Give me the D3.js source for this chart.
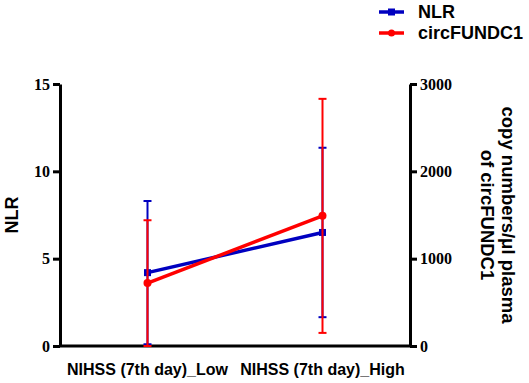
<!DOCTYPE html>
<html>
<head>
<meta charset="utf-8">
<script src="https://cdn.jsdelivr.net/npm/d3@7"></script>
<style>
  body { margin: 0; background: #fff; }
</style>
</head>
<body>
<div id="chart"></div>
<script>
const categories = ["NIHSS (7th day)_Low", "NIHSS (7th day)_High"];
const nlrMean = [4.2, 6.5];
const nlrSD = [4.1, 4.85];
const circMean = [720, 1490];
const circSD = [720, 1340];
const leftTicks = [0, 5, 10, 15];
const rightTicks = [0, 1000, 2000, 3000];

let width = 529,
  height = 383,
  margin = ({ top: 84, right: 119, bottom: 37, left: 60 });

const svg = d3.select("#chart")
  .append("svg")
  .attr("width", width)
  .attr("height", height);

let x = d3.scalePoint()
  .domain(categories)
  .range([margin.left, width - margin.right])
  .padding(0.5);

let yL = d3.scaleLinear()
  .domain([0, 15])
  .range([height - margin.bottom, margin.top]);

let yR = d3.scaleLinear()
  .domain([0, 3000])
  .range([height - margin.bottom, margin.top]);

const tickFont = "'Liberation Serif', 'Times New Roman', serif";
const labelFont = "'Liberation Sans', Arial, sans-serif";

// axes
const gL = svg.append("g")
  .attr("transform", `translate(${margin.left},0)`)
  .call(d3.axisLeft(yL).tickValues(leftTicks).tickSize(7).tickSizeOuter(0).tickFormat(d3.format("d")));

const gR = svg.append("g")
  .attr("transform", `translate(${width - margin.right},0)`)
  .call(d3.axisRight(yR).tickValues(rightTicks).tickSize(7).tickSizeOuter(0).tickFormat(d3.format("d")));

for (let g of [gL, gR]) {
  g.select(".domain").attr("stroke", "#000").attr("stroke-width", 3);
  g.selectAll(".tick line").attr("stroke", "#000").attr("stroke-width", 3);
  g.selectAll(".tick text")
    .attr("font-family", tickFont)
    .attr("font-weight", "bold")
    .attr("font-size", 16)
    .attr("fill", "#000");
}

svg.append("line")
  .attr("x1", margin.left).attr("x2", width - margin.right)
  .attr("y1", yL(0)).attr("y2", yL(0))
  .attr("stroke", "#000").attr("stroke-width", 3);

// category labels
svg.selectAll(".cat")
  .data(categories)
  .join("text")
  .attr("x", d => x(d))
  .attr("y", height - 8)
  .attr("text-anchor", "middle")
  .attr("font-family", labelFont)
  .attr("font-weight", "bold")
  .attr("font-size", 16)
  .text(d => d);

// axis titles
svg.append("text")
  .attr("transform", `translate(18,${(yL(0) + yL(15)) / 2}) rotate(-90)`)
  .attr("text-anchor", "middle")
  .attr("font-family", labelFont)
  .attr("font-weight", "bold")
  .attr("font-size", 18)
  .text("NLR");

const rt = svg.append("text")
  .attr("transform", `translate(502,${(yR(0) + yR(3000)) / 2}) rotate(90)`)
  .attr("text-anchor", "middle")
  .attr("font-family", labelFont)
  .attr("font-weight", "bold")
  .attr("font-size", 18.5);
rt.append("tspan").attr("x", 0).attr("y", 0).text("copy numbers/μl plasma");
rt.append("tspan").attr("x", 0).attr("y", 21).text("of circFUNDC1");

// series
const blue = "#0000c0", red = "#ff0000";

function drawSeries(means, sds, y, color, marker) {
  const g = svg.append("g");
  const pts = categories.map((c, i) => ({ c, m: means[i], s: sds[i] }));
  g.selectAll(".eb")
    .data(pts)
    .join("line")
    .attr("x1", d => x(d.c)).attr("x2", d => x(d.c))
    .attr("y1", d => y(Math.max(0, d.m - d.s)))
    .attr("y2", d => y(d.m + d.s))
    .attr("stroke", color).attr("stroke-width", 2);
  for (let k of [-1, 1]) {
    g.selectAll(".cap" + k)
      .data(pts)
      .join("line")
      .attr("x1", d => x(d.c) - 4).attr("x2", d => x(d.c) + 4)
      .attr("y1", d => y(Math.max(0, d.m + k * d.s)))
      .attr("y2", d => y(Math.max(0, d.m + k * d.s)))
      .attr("stroke", color).attr("stroke-width", 2);
  }
  g.append("path")
    .datum(pts)
    .attr("fill", "none")
    .attr("stroke", color)
    .attr("stroke-width", 3.5)
    .attr("d", d3.line().x(d => x(d.c)).y(d => y(d.m)));
  if (marker === "square") {
    g.selectAll(".mk").data(pts).join("rect")
      .attr("x", d => x(d.c) - 3.5).attr("y", d => y(d.m) - 3.5)
      .attr("width", 7).attr("height", 7).attr("fill", color);
  } else {
    g.selectAll(".mk").data(pts).join("circle")
      .attr("cx", d => x(d.c)).attr("cy", d => y(d.m))
      .attr("r", 4).attr("fill", color);
  }
}

drawSeries(nlrMean, nlrSD, yL, blue, "square");
drawSeries(circMean, circSD, yR, red, "circle");

// legend
const legend = [
  { name: "NLR", color: blue, marker: "square" },
  { name: "circFUNDC1", color: red, marker: "circle" }
];
const lg = svg.append("g").attr("transform", "translate(379,12)");
legend.forEach((d, i) => {
  const row = lg.append("g").attr("transform", `translate(0,${i * 21})`);
  row.append("line").attr("x1", 0).attr("x2", 25).attr("y1", 0).attr("y2", 0)
    .attr("stroke", d.color).attr("stroke-width", 3.5);
  if (d.marker === "square") {
    row.append("rect").attr("x", 9).attr("y", -3.5).attr("width", 7).attr("height", 7).attr("fill", d.color);
  } else {
    row.append("circle").attr("cx", 12.5).attr("cy", 0).attr("r", 3.5).attr("fill", d.color);
  }
  row.append("text")
    .attr("x", 39).attr("y", 0).attr("dy", "0.35em")
    .attr("font-family", labelFont)
    .attr("font-weight", "bold")
    .attr("font-size", 18)
    .text(d.name);
});
</script>
</body>
</html>
